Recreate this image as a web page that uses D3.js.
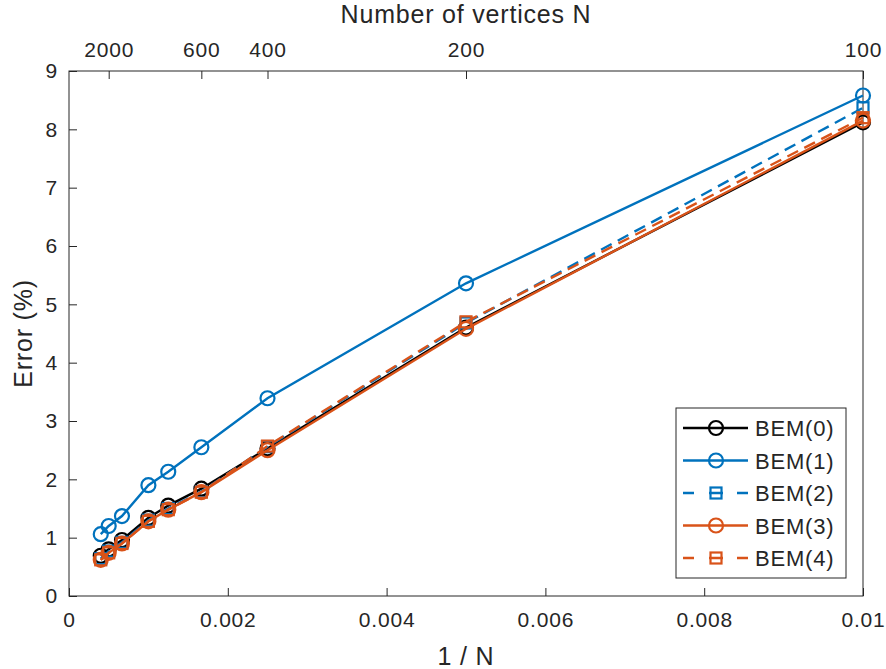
<!DOCTYPE html>
<html>
<head>
<meta charset="utf-8">
<script src="https://cdn.jsdelivr.net/npm/d3@7"></script>
<style>
body { margin: 0; background: #fff; }
text { font-family: "Liberation Sans", Arial, sans-serif; fill: #262626; }
</style>
</head>
<body>
<script>
var Width = 886;
var Height = 669;

// 1/N values for N = 2500, 2000, 1500, 1000, 800, 600, 400, 200, 100
var invN = [0.0004, 0.0005, 0.000667, 0.001, 0.00125, 0.001667, 0.0025, 0.005, 0.01];
var bem0 = [0.69, 0.80, 0.96, 1.34, 1.55, 1.84, 2.53, 4.60, 8.12];
var bem1 = [1.06, 1.20, 1.37, 1.90, 2.13, 2.55, 3.39, 5.36, 8.58];
var bem2 = [0.64, 0.77, 0.92, 1.30, 1.50, 1.79, 2.56, 4.68, 8.37];
var bem3 = [0.62, 0.74, 0.90, 1.28, 1.48, 1.78, 2.50, 4.58, 8.15];
var bem4 = [0.62, 0.74, 0.90, 1.28, 1.48, 1.78, 2.57, 4.70, 8.20];

var xTicks = [0, 0.002, 0.004, 0.006, 0.008, 0.01];
var xTickLabels = ["0", "0.002", "0.004", "0.006", "0.008", "0.01"];
var yTicks = [0, 1, 2, 3, 4, 5, 6, 7, 8, 9];
var topTicks = [2000, 600, 400, 200, 100];

var series = [
	{ name: "BEM(0)", values: bem0, color: "#000000", dash: null, marker: "circle" },
	{ name: "BEM(1)", values: bem1, color: "#0072BD", dash: null, marker: "circle" },
	{ name: "BEM(2)", values: bem2, color: "#0072BD", dash: "12,7", marker: "square" },
	{ name: "BEM(3)", values: bem3, color: "#D95319", dash: null, marker: "circle" },
	{ name: "BEM(4)", values: bem4, color: "#D95319", dash: "12,7", marker: "square" }
];

var mLeft = 69, mRight = 863, mTop = 71, mBottom = 596;

var svg = d3.select("body").append("svg")
	.attr("width", Width)
	.attr("height", Height);

var x = d3.scaleLinear().domain([0, 0.01]).range([mLeft, mRight]);
var y = d3.scaleLinear().domain([0, 9]).range([mBottom, mTop]);

var axisColor = "#262626";

function styleAxis(g) {
	g.select(".domain").remove();
	g.selectAll(".tick line").attr("stroke", axisColor);
	g.selectAll(".tick text")
		.attr("font-size", 21)
		.attr("letter-spacing", 0.8)
		.attr("fill", axisColor);
}

// bottom axis (inward ticks)
svg.append("g")
	.attr("transform", "translate(0," + mBottom + ")")
	.call(d3.axisBottom(x).tickValues(xTicks)
		.tickFormat(function (d, i) { return xTickLabels[i]; })
		.tickSizeInner(-8).tickPadding(16))
	.call(styleAxis);

// left axis
svg.append("g")
	.attr("transform", "translate(" + mLeft + ",0)")
	.call(d3.axisLeft(y).tickValues(yTicks).tickSizeInner(-8).tickPadding(11))
	.call(styleAxis);

// top axis : number of vertices
svg.append("g")
	.attr("transform", "translate(0," + mTop + ")")
	.call(d3.axisTop(x).tickValues(topTicks.map(function (n) { return 1 / n; }))
		.tickFormat(function (d, i) { return topTicks[i]; })
		.tickSizeInner(-8).tickPadding(14))
	.call(styleAxis);

// frame
svg.append("rect")
	.attr("x", mLeft).attr("y", mTop)
	.attr("width", mRight - mLeft).attr("height", mBottom - mTop)
	.attr("fill", "none").attr("stroke", axisColor).attr("stroke-width", 1);

// axis titles
svg.append("text")
	.attr("x", (mLeft + mRight) / 2).attr("y", 665)
	.attr("text-anchor", "middle").attr("font-size", 25).attr("letter-spacing", 0.8)
	.text("1 / N");

svg.append("text")
	.attr("x", (mLeft + mRight) / 2).attr("y", 23)
	.attr("text-anchor", "middle").attr("font-size", 25).attr("letter-spacing", 0.8)
	.text("Number of vertices N");

svg.append("text")
	.attr("transform", "translate(32," + ((mTop + mBottom) / 2) + ") rotate(-90)")
	.attr("text-anchor", "middle").attr("font-size", 25).attr("letter-spacing", 0.8)
	.text("Error (%)");

var line = d3.line()
	.x(function (d) { return x(d[0]); })
	.y(function (d) { return y(d[1]); });

function drawMarker(g, type, cx, cy, color) {
	if (type === "circle") {
		g.append("circle")
			.attr("cx", cx).attr("cy", cy).attr("r", 7)
			.attr("fill", "none").attr("stroke", color).attr("stroke-width", 2.2);
	} else {
		g.append("rect")
			.attr("x", cx - 5.5).attr("y", cy - 5.5)
			.attr("width", 11).attr("height", 11)
			.attr("fill", "none").attr("stroke", color).attr("stroke-width", 2.2);
	}
}

series.forEach(function (s) {
	var pts = invN.map(function (v, i) { return [v, s.values[i]]; });
	var g = svg.append("g");
	g.append("path")
		.datum(pts)
		.attr("d", line)
		.attr("fill", "none")
		.attr("stroke", s.color)
		.attr("stroke-width", 2.4)
		.attr("stroke-dasharray", s.dash);
	pts.forEach(function (p) {
		drawMarker(g, s.marker, x(p[0]), y(p[1]), s.color);
	});
});

// legend
var lg = svg.append("g");
lg.append("rect")
	.attr("x", 676).attr("y", 408)
	.attr("width", 170).attr("height", 170)
	.attr("fill", "#fff").attr("stroke", axisColor).attr("stroke-width", 1);

series.forEach(function (s, i) {
	var ly = 428 + i * 32.5;
	lg.append("line")
		.attr("x1", 683).attr("x2", 748)
		.attr("y1", ly).attr("y2", ly)
		.attr("stroke", s.color).attr("stroke-width", 2.4)
		.attr("stroke-dasharray", s.dash ? "11,15,14,14,11" : null);
	drawMarker(lg, s.marker, 716, ly, s.color);
	lg.append("text")
		.attr("x", 755).attr("y", ly + 8)
		.attr("font-size", 22).attr("letter-spacing", 0.8)
		.text(s.name);
});
</script>
</body>
</html>
